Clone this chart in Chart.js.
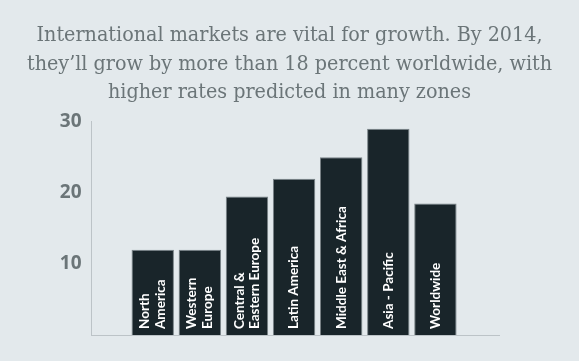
<!DOCTYPE html>
<html>
<head>
<meta charset="utf-8">
<script src="https://cdn.jsdelivr.net/npm/chart.js@4/dist/chart.umd.min.js"></script>
<style>
  html, body { margin: 0; padding: 0; background: #e3e9ec; }
  #wrap { width: 579px; height: 361px; position: relative; }
</style>
</head>
<body>
<div id="wrap"><canvas id="c"></canvas></div>
<script>
// Growth by region, percent
const regions = [
  ['North', 'America'],
  ['Western', 'Europe'],
  ['Central &', 'Eastern Europe'],
  ['Latin America'],
  ['Middle East & Africa'],
  ['Asia - Pacific'],
  ['Worldwide']
];
const growth = [12, 12, 19.5, 22, 25, 29, 18.5];
const yTicks = [10, 20, 30];
const titleLines = [
  'International markets are vital for growth. By 2014,',
  'they\u2019ll grow by more than 18 percent worldwide, with',
  'higher rates predicted in many zones'
];

// Region names written upward inside each bar
const barLabels = {
  id: 'barLabels',
  afterDatasetsDraw(chart) {
    const ctx = chart.ctx;
    const meta = chart.getDatasetMeta(0);
    ctx.save();
    ctx.fillStyle = '#ffffff';
    ctx.font = 'bold 13.5px Lato';
    ctx.textAlign = 'left';
    ctx.textBaseline = 'middle';
    const lh = 15.5;
    meta.data.forEach((bar, i) => {
      const lines = regions[i];
      ctx.save();
      ctx.translate(bar.x, bar.base - 6);
      ctx.rotate(-Math.PI / 2);
      lines.forEach((t, k) => {
        ctx.fillText(t, 0, (k - (lines.length - 1) / 2) * lh);
      });
      ctx.restore();
    });
    ctx.restore();
  }
};

new Chart(document.getElementById('c'), {
  type: 'bar',
  data: {
    datasets: [{
      data: growth.map((v, i) => ({ x: i, y: v })),
      backgroundColor: '#19252a',
      borderColor: 'rgba(110,120,124,0.9)',
      borderWidth: 1,
      borderSkipped: 'bottom',
      categoryPercentage: 1,
      barPercentage: 0.9
    }]
  },
  options: {
    responsive: true,
    maintainAspectRatio: false,
    animation: false,
    layout: { padding: { left: 0, right: 0, top: 0, bottom: 26 } },
    plugins: {
      legend: { display: false },
      tooltip: { enabled: false },
      title: {
        display: true,
        text: titleLines,
        color: '#6b7578',
        font: { family: '"DejaVu Serif Condensed", "DejaVu Serif"', size: 21.3, weight: 'normal', lineHeight: 1.35 },
        padding: { top: 21, bottom: 14.5 }
      }
    },
    scales: {
      x: {
        type: 'linear',
        offset: false,
        min: -1.3,
        max: 7.35,
        grid: { display: false },
        ticks: { display: false },
        border: { display: true, color: '#bcc3c7', width: 1 },
        afterFit: s => { s.height = 0; }
      },
      y: {
        min: 0,
        max: 30,
        afterBuildTicks: s => { s.ticks = yTicks.map(v => ({ value: v })); },
        grid: { display: false, drawTicks: false },
        border: { display: true, color: '#bcc3c7', width: 1 },
        ticks: {
          padding: 10,
          color: '#6b7578',
          font: { family: 'Open Sans', size: 19, weight: 'bold' }
        },
        afterFit: s => { s.width = 91.5; }
      },
      // empty right-hand margin so the title stays centred on the page
      yRight: {
        position: 'right',
        display: true,
        grid: { display: false, drawTicks: false },
        border: { display: false },
        ticks: { display: false },
        afterFit: s => { s.width = 80; }
      }
    }
  },
  plugins: [barLabels]
});
</script>
</body>
</html>
